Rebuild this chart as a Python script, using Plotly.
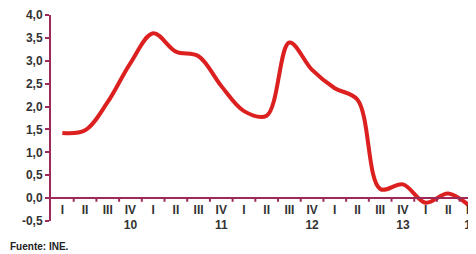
import plotly.graph_objects as go

quarters = ["I", "II", "III", "IV"] * 4 + ["I", "II", "III"]
years = {3: "10", 7: "11", 11: "12", 15: "13", 18: "14"}
values = [1.42, 1.48, 2.1, 2.95, 3.6, 3.2, 3.1, 2.45, 1.9, 1.8, 3.4, 2.8, 2.4, 2.15, 0.2, 0.3, -0.1, 0.1, -0.2]
yticks = [-0.5, 0.0, 0.5, 1.0, 1.5, 2.0, 2.5, 3.0, 3.5, 4.0]

xs = list(range(len(values)))
ticktext = ["<b>" + q + ("<br>" + years[i] if i in years else "") + "</b>" for i, q in enumerate(quarters)]

axis_color = "#9e2a5a"

# page body has an 8px default margin; figure sized to fit the 476x254 window
W, H = 468, 246
ML, MT, MB = 43, 7, 33

fig = go.Figure()
fig.add_trace(go.Scatter(
    x=xs, y=values, mode="lines",
    line=dict(color="#dc2020", width=4, shape="spline", smoothing=1.0),
    hoverinfo="skip",
))

fig.update_layout(
    width=W, height=H,
    margin=dict(l=ML, r=0, t=MT, b=MB, pad=0),
    paper_bgcolor="white", plot_bgcolor="white",
    showlegend=False,
    separators=",.",
    font=dict(family="Liberation Sans, Arial", color="#333333"),
    xaxis=dict(
        range=[-0.5, 18.22],
        tickmode="array", tickvals=xs, ticktext=ticktext,
        showgrid=False, zeroline=False, automargin=False,
        showline=True, linecolor=axis_color, linewidth=2,
        anchor="free", position=0.5 / 4.5,
        ticks="", ticklabeloverflow="allow",
        tickfont=dict(size=12, color="#333333", family="Liberation Sans Narrow, Liberation Sans"),
        fixedrange=True,
    ),
    yaxis=dict(
        range=[-0.5, 4.0],
        tickmode="array", tickvals=yticks,
        ticktext=["<b>" + f"{v:.1f}".replace(".", ",") + "</b>" for v in yticks],
        showgrid=False, zeroline=False, automargin=False,
        showline=True, linecolor=axis_color, linewidth=2,
        ticks="outside", ticklen=4, tickwidth=2, tickcolor=axis_color,
        tickfont=dict(size=12, color="#333333", family="Liberation Sans"),
        fixedrange=True,
    ),
    annotations=[dict(
        text="<b>Fuente: INE.</b>", x=0, y=0.0, xref="paper", yref="paper",
        xanchor="left", yanchor="bottom", showarrow=False, yshift=-MB, xshift=-ML,
        font=dict(size=10, color="#222222"),
    )],
)

# tick marks on the zero axis between quarters
for b in range(0, 19):
    fig.add_shape(type="line", xref="x", yref="y", x0=b + 0.5, x1=b + 0.5,
                  y0=0, y1=-0.08, line=dict(color=axis_color, width=2))

fig.write_html("out.html")
